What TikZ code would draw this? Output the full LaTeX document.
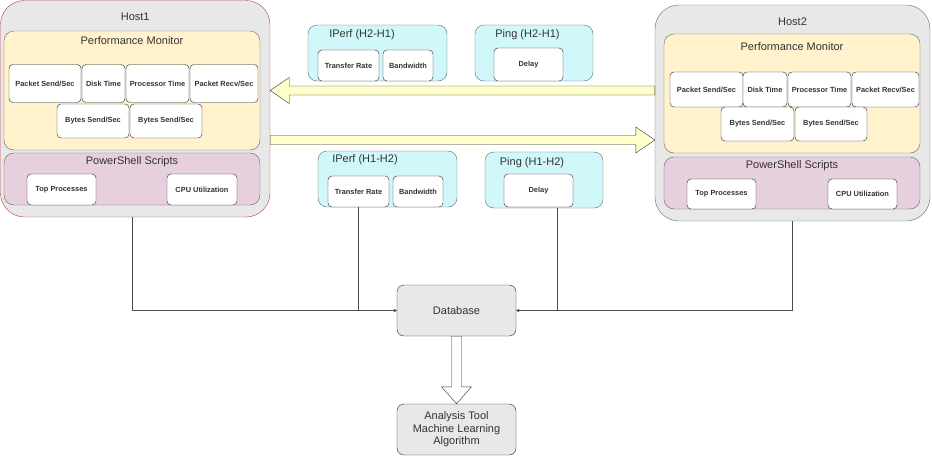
\documentclass[tikz,border=0pt]{standalone}
\usepackage{fontspec}
\setmainfont{Liberation Sans}
\usetikzlibrary{calc}

\definecolor{hostgray}{RGB}{232,232,232}
\definecolor{hostred}{RGB}{176,60,70}
\definecolor{monyellow}{RGB}{255,242,204}
\definecolor{scriptpink}{RGB}{230,208,222}
\definecolor{probecyan}{RGB}{208,248,250}
\definecolor{pipeyellow}{RGB}{255,255,204}

\begin{document}
\begin{tikzpicture}[x=1pt, y=-1pt,
    every node/.style={inner sep=0pt},
    host/.style={draw=black!60, fill=hostgray, rounded corners=24pt},
    group/.style={draw=black!60, rounded corners=10pt, minimum width=256pt},
    probe/.style={draw=black!60, fill=probecyan, rounded corners=9pt, minimum height=56pt},
    cell/.style={draw=black!85, fill=white, rounded corners=4pt, font=\fontsize{7.4}{8}\selectfont\bfseries, text=black!80},
    title/.style={font=\fontsize{11}{13}\selectfont, text=black!80},
    store/.style={draw=black!85, fill=hostgray, rounded corners=7pt, minimum width=119pt, minimum height=51pt, align=center, font=\fontsize{11}{12.5}\selectfont, text=black!80},
    link/.style={->, >=stealth, draw=black!70},
    pipe/.style={draw=black!80, fill=pipeyellow}
]
\useasboundingbox (0,0) rectangle (932,464);

% Host 1
\node[host, draw=hostred, minimum width=269.5pt, minimum height=216.5pt] (host1) at (135.25,108.75) {};
\node[title] at ([yshift=-16.5pt]host1.north) {Host1};

\node[group, fill=monyellow, minimum height=119pt] (mon1) at (132,90.5) {};
\node[title] at ([yshift=-10pt]mon1.north) {Performance Monitor};
\node[cell, minimum width=72pt, minimum height=38pt] (pks1) at (45,83.5) {Packet Send/Sec};
\node[cell, minimum width=43pt, minimum height=38pt] (dsk1) at (103.5,83.5) {Disk Time};
\node[cell, minimum width=63pt, minimum height=38pt] (cpt1) at (157.5,83.5) {Processor Time};
\node[cell, minimum width=68pt, minimum height=38pt] (pkr1) at (224,83.5) {Packet Recv/Sec};
\node[cell, minimum width=72pt, minimum height=34pt] (bys1) at (93,121) {Bytes Send/Sec};
\node[cell, minimum width=72pt, minimum height=34pt] (byr1) at (166,121) {Bytes Send/Sec};

\node[group, fill=scriptpink, minimum height=52pt] (scr1) at (132,179) {};
\node[title] at ([yshift=-9pt]scr1.north) {PowerShell Scripts};
\node[cell, minimum width=69pt, minimum height=31pt] (top1) at (61.5,189.5) {Top Processes};
\node[cell, minimum width=70pt, minimum height=31pt] (cpu1) at (202,189.5) {CPU Utilization};

% Host 2
\node[host, minimum width=275pt, minimum height=216pt] (host2) at (792.5,113) {};
\node[title] at ([yshift=-17pt]host2.north) {Host2};

\node[group, fill=monyellow, minimum height=119pt] (mon2) at (792,93.5) {};
\node[title] at ([yshift=-12.5pt]mon2.north) {Performance Monitor};
\node[cell, minimum width=73pt, minimum height=35pt] (pks2) at (706.5,89.5) {Packet Send/Sec};
\node[cell, minimum width=44pt, minimum height=35pt] (dsk2) at (765,89.5) {Disk Time};
\node[cell, minimum width=63pt, minimum height=35pt] (cpt2) at (819.5,89.5) {Processor Time};
\node[cell, minimum width=67pt, minimum height=35pt] (pkr2) at (885.5,89.5) {Packet Recv/Sec};
\node[cell, minimum width=73pt, minimum height=34pt] (bys2) at (757.5,124) {Bytes Send/Sec};
\node[cell, minimum width=72pt, minimum height=34pt] (byr2) at (831,124) {Bytes Send/Sec};

\node[group, fill=scriptpink, minimum height=52pt] (scr2) at (792,183) {};
\node[title] at ([yshift=-9pt]scr2.north) {PowerShell Scripts};
\node[cell, minimum width=69pt, minimum height=30pt] (top2) at (721.5,194) {Top Processes};
\node[cell, minimum width=69pt, minimum height=30pt] (cpu2) at (862.5,194) {CPU Utilization};

% Measurements H2 -> H1
\node[probe, minimum width=139pt] (ipf21) at (377.5,53) {};
\node[title] at ([shift={(-15.5pt,-10pt)}]ipf21.north) {IPerf (H2-H1)};
\node[cell, minimum width=61pt, minimum height=31pt] (tr21) at (348.5,65.5) {Transfer Rate};
\node[cell, minimum width=50pt, minimum height=31pt] (bw21) at (408,65.5) {Bandwidth};

\node[probe, minimum width=118pt] (png21) at (534,53) {};
\node[title] at ([shift={(-6.5pt,-10pt)}]png21.north) {Ping (H2-H1)};
\node[cell, minimum width=69pt, minimum height=33pt] (dly21) at (528.5,64.5) {Delay};

% Measurements H1 -> H2
\node[probe, minimum width=139pt] (ipf12) at (387.5,179) {};
\node[title] at ([shift={(-22.5pt,-9pt)}]ipf12.north) {IPerf (H1-H2)};
\node[cell, minimum width=61pt, minimum height=31pt] (tr12) at (358.5,191.5) {Transfer Rate};
\node[cell, minimum width=50pt, minimum height=31pt] (bw12) at (418,191.5) {Bandwidth};

\node[probe, minimum width=118pt] (png12) at (544,180) {};
\node[title] at ([shift={(-12pt,-11pt)}]png12.north) {Ping (H1-H2)};
\node[cell, minimum width=69pt, minimum height=33pt] (dly12) at (538.5,190.5) {Delay};

% Traffic between hosts
\coordinate (lane21) at (0,90.5);
\coordinate (lane12) at (0,140);
\coordinate (tail21) at (host2.west |- lane21);
\coordinate (tip21) at (host1.east |- lane21);
\coordinate (tail12) at (host1.east |- lane12);
\coordinate (tip12) at (host2.west |- lane12);

\draw[pipe] ([yshift=4.5pt]tail21) -- ([shift={(19pt,4.5pt)}]tip21) -- ([shift={(19pt,13pt)}]tip21) -- (tip21)
    -- ([shift={(19pt,-13pt)}]tip21) -- ([shift={(19pt,-4.5pt)}]tip21) -- ([yshift=-4.5pt]tail21) -- cycle;
\draw[pipe] ([yshift=4.5pt]tail12) -- ([shift={(-19pt,4.5pt)}]tip12) -- ([shift={(-19pt,13pt)}]tip12) -- (tip12)
    -- ([shift={(-19pt,-13pt)}]tip12) -- ([shift={(-19pt,-4.5pt)}]tip12) -- ([yshift=-4.5pt]tail12) -- cycle;

% Storage and analysis
\node[store] (db) at (456.5,310.5) {Database};
\node[store] (ana) at (456.5,429.5) {Analysis Tool\\Machine Learning\\Algorithm};

\draw[link] ([xshift=-3pt]host1.south) |- (db.west);
\draw[link] (tr12.south) |- (db.west);
\draw[link] ([xshift=13pt]png12.south) |- (db.east);
\draw[link] (host2.south) |- (db.east);

\draw[pipe, fill=white] ([xshift=-5pt]db.south) -- ([shift={(-5pt,17pt)}]ana.north) -- ([shift={(-15pt,17pt)}]ana.north) -- (ana.north)
    -- ([shift={(15pt,17pt)}]ana.north) -- ([shift={(5pt,17pt)}]ana.north) -- ([xshift=5pt]db.south) -- cycle;

\end{tikzpicture}
\end{document}
